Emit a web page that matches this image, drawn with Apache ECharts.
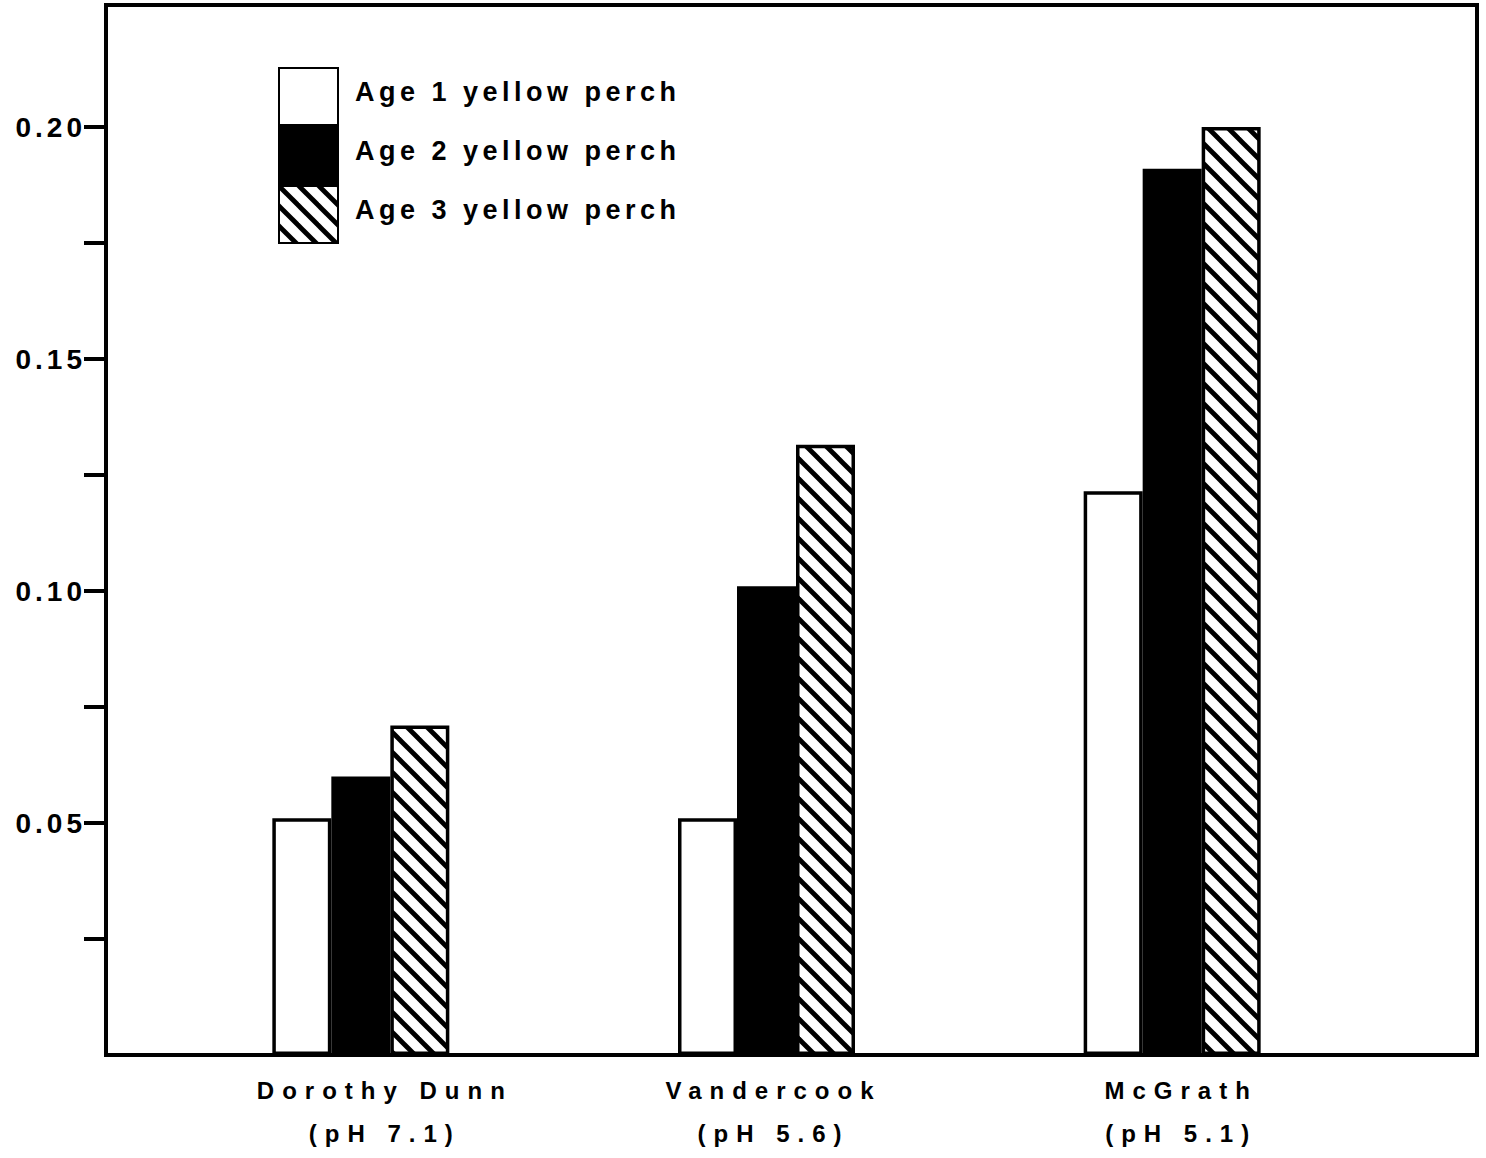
<!DOCTYPE html>
<html>
<head>
<meta charset="utf-8">
<title>Yellow perch by lake</title>
<style>
  html, body { margin: 0; padding: 0; background: #fff; }
  #chart { width: 1486px; height: 1158px; }
  /* spaced-out typewriter lettering, per text group */
  #chart text[style*="Liberation Sans"] { letter-spacing: 4px; }
  #chart text[style*="Arial"] { letter-spacing: 4.5px; }
  #chart text[style*="Helvetica"] { letter-spacing: 8px; }
</style>
<script src="https://cdn.jsdelivr.net/npm/echarts@6/dist/echarts.min.js"></script>
</head>
<body>
<div id="chart"></div>
<script>
// Lakes (with pH) along the horizontal axis
const sites = ['Dorothy Dunn\n(pH 7.1)', 'Vandercook\n(pH 5.6)', 'McGrath\n(pH 5.1)'];
const seriesNames = ['Age 1 yellow perch', 'Age 2 yellow perch', 'Age 3 yellow perch'];
const age1 = [0.051, 0.051, 0.1215];
const age2 = [0.060, 0.101, 0.191];
const age3 = [0.071, 0.1315, 0.200];
// Labelled ticks and all tick marks on the vertical axis
const yLabelValues = [0.05, 0.10, 0.15, 0.20];
const yTickValues = [0.025, 0.05, 0.075, 0.10, 0.125, 0.15, 0.175, 0.20];

const Y_MIN = 0;
const Y_MAX = 0.2263;

// left padding per lake label (nudges each two-line label to the right)
const labelNudge = [48, 14, 18];

// Diagonal hatch tile ("\" direction) for the age 3 bars
function makeHatch() {
  const size = 20;
  const c = document.createElement('canvas');
  c.width = size; c.height = size;
  const g = c.getContext('2d');
  g.fillStyle = '#fff';
  g.fillRect(0, 0, size, size);
  g.strokeStyle = '#000';
  g.lineWidth = 4.8;
  [-size, 0, size].forEach(function (ox) {
    g.beginPath();
    g.moveTo(ox - 5, -5);
    g.lineTo(ox + size + 5, size + 5);
    g.stroke();
  });
  return { image: c, repeat: 'repeat', imageWidth: size, imageHeight: size };
}

const chart = echarts.init(document.getElementById('chart'), null, { renderer: 'svg' });

const barBorder = { borderColor: '#000', borderWidth: 3.5 };

const legendFont = {
  fontFamily: 'Arial, "Liberation Sans"',
  fontSize: 27,
  fontWeight: 'bold',
  color: '#000'
};

chart.setOption({
  animation: false,
  backgroundColor: '#fff',
  grid: [
    // outer frame with the value axis
    { left: 106, right: 9, top: 5, bottom: 103, show: true, borderColor: '#000', borderWidth: 4, backgroundColor: 'transparent' },
    // bar area
    { left: 158, right: 111, top: 5, bottom: 103 }
  ],
  legend: {
    orient: 'vertical',
    left: 273,
    top: 62,
    itemWidth: 59,
    itemHeight: 57,
    itemGap: 0,
    icon: 'rect',
    data: seriesNames,
    formatter: function (name) { return '{t|' + name + '}'; },
    textStyle: Object.assign({
      rich: {
        t: Object.assign({ padding: [0, 0, 9, 12] }, legendFont)
      }
    }, legendFont)
  },
  xAxis: [
    { gridIndex: 0, type: 'value', min: 0, max: 1, show: false },
    {
      gridIndex: 1,
      type: 'category',
      data: sites.map(function (s, i) {
        return { value: s, textStyle: { padding: [0, 0, 0, labelNudge[i]] } };
      }),
      axisLine: { show: false },
      axisTick: { show: false },
      splitLine: { show: false },
      axisLabel: {
        fontFamily: 'Helvetica, "Liberation Sans"',
        fontSize: 24,
        fontWeight: 'bold',
        color: '#000',
        lineHeight: 43,
        margin: 14
      }
    }
  ],
  yAxis: [
    {
      gridIndex: 0,
      type: 'value',
      min: Y_MIN,
      max: Y_MAX,
      axisLine: { show: false },
      splitLine: { show: false },
      axisTick: {
        show: true,
        customValues: yTickValues,
        length: 22,
        lineStyle: { color: '#000', width: 4 }
      },
      axisLabel: {
        customValues: yLabelValues,
        formatter: function (v) { return v.toFixed(2); },
        fontFamily: '"Liberation Sans"',
        fontSize: 28,
        fontWeight: 'bold',
        color: '#000',
        margin: 20
      }
    },
    { gridIndex: 1, type: 'value', min: Y_MIN, max: Y_MAX, show: false }
  ],
  series: [
    {
      name: seriesNames[0], type: 'bar', xAxisIndex: 1, yAxisIndex: 1,
      data: age1, barWidth: 59, barGap: '0%',
      itemStyle: Object.assign({ color: '#fff' }, barBorder)
    },
    {
      name: seriesNames[1], type: 'bar', xAxisIndex: 1, yAxisIndex: 1,
      data: age2, barWidth: 59, barGap: '0%',
      itemStyle: Object.assign({ color: '#000' }, barBorder)
    },
    {
      name: seriesNames[2], type: 'bar', xAxisIndex: 1, yAxisIndex: 1,
      data: age3, barWidth: 59, barGap: '0%',
      itemStyle: Object.assign({ color: makeHatch() }, barBorder)
    }
  ]
});
</script>
</body>
</html>
